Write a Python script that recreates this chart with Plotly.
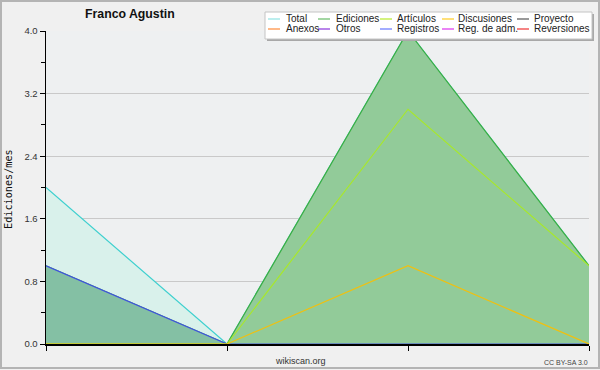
import plotly.graph_objects as go

# ---- data ----
month_index = [0, 1, 2, 3]
total = [2, 0, 4, 1]
ediciones = [1, 0, 4, 1]
registros = [1, 0, 0, 0]
articulos = [0, 0, 3, 1]
discusiones = [0, 0, 1, 0]

legend_labels = ["Total", "Ediciones", "Artículos", "Discusiones", "Proyecto",
                 "Anexos", "Otros", "Registros", "Reg. de adm.", "Reversiones"]
legend_colors = ["#8fe3e3", "#66bb66", "#b8ea2a", "#ffcc22", "#555555",
                 "#ff8a3a", "#8a35dd", "#6677ff", "#dd33ee", "#ee3333"]

y_ticks = [0.0, 0.8, 1.6, 2.4, 3.2, 4.0]

W, H = 600, 370
L, R, T, B = 46, 11, 31, 26
PW, PH = W - L - R, H - T - B


def px(x):
    return (x - L) / PW


def py(y):
    return (H - B - y) / PH


fig = go.Figure()

series = [
    ("Total", total, "#3fd0cf", "#d9f1eb"),
    ("Ediciones", ediciones, "#3aae42", "#92cb99"),
    ("Registros", registros, "#4050e0", "#84c0a4"),
    ("Artículos", articulos, "#a8e82a", None),
    ("Discusiones", discusiones, "#f0c010", None),
]
for name, vals, lc, fc in series:
    fig.add_trace(go.Scatter(
        x=month_index, y=vals, mode="lines", name=name,
        line=dict(color=lc, width=1.2),
        fill="tozeroy" if fc else None,
        fillcolor=fc,
        showlegend=False,
        hoverinfo="skip",
    ))

fig.update_xaxes(
    range=[0, 3], tickvals=month_index, showticklabels=False,
    ticks="outside", ticklen=5, tickcolor="#000", showline=True,
    linecolor="#000", linewidth=1.5, showgrid=False, zeroline=False,
)
fig.update_yaxes(
    range=[0, 4], tickvals=y_ticks, tickformat=".1f",
    ticks="outside", ticklen=5, tickcolor="#000",
    minor=dict(dtick=0.4, tick0=0, ticks="outside", ticklen=4,
               tickcolor="#000", showgrid=False),
    showline=True, linecolor="#000", linewidth=1.5,
    showgrid=True, gridcolor="#c9c9c9", gridwidth=1, zeroline=False,
    tickfont=dict(family="Liberation Sans", size=9.5, color="#333"),
)

shapes = []
annotations = []

# outer frame
shapes.append(dict(type="rect", xref="paper", yref="paper",
                   x0=px(1), x1=px(599), y0=py(368), y1=py(1),
                   line=dict(color="#b4b4b4", width=2), layer="above"))

# legend box (shadow + box)
shapes.append(dict(type="rect", xref="paper", yref="paper",
                   x0=px(267), x1=px(594), y0=py(41), y1=py(14),
                   fillcolor="#a8a8a8", line=dict(width=0), layer="above"))
shapes.append(dict(type="rect", xref="paper", yref="paper",
                   x0=px(265), x1=px(592), y0=py(39), y1=py(12),
                   fillcolor="#ffffff", line=dict(color="#c4c4c4", width=1),
                   layer="above"))

col_line_x = [268, 318, 380, 442, 517]
col_text_x = [285, 335, 396, 457, 533]
row_y = [19, 29]
for i, (lab, col) in enumerate(zip(legend_labels, legend_colors)):
    r, c = divmod(i, 5)
    shapes.append(dict(type="line", xref="paper", yref="paper",
                       x0=px(col_line_x[c]), x1=px(col_line_x[c] + 12),
                       y0=py(row_y[r]), y1=py(row_y[r]),
                       line=dict(color=col, width=1.2), layer="above"))
    annotations.append(dict(xref="paper", yref="paper",
                            x=px(col_text_x[c] - 1), y=py(row_y[r]),
                            xanchor="left", yanchor="middle", showarrow=False,
                            text=lab, font=dict(family="Liberation Sans", size=10, color="#222")))

# title
annotations.append(dict(xref="paper", yref="paper", x=px(130), y=py(14),
                        xanchor="center", yanchor="middle", showarrow=False,
                        text="<b>Franco Agustin</b>",
                        font=dict(family="Liberation Sans", size=12.3, color="#111")))
# y axis title
annotations.append(dict(xref="paper", yref="paper", x=px(8), y=py(189),
                        xanchor="center", yanchor="middle", showarrow=False,
                        textangle=-90, text="Ediciones/mes",
                        font=dict(family="DejaVu Sans Mono", size=10.2, color="#111")))
# footer
annotations.append(dict(xref="paper", yref="paper", x=px(300), y=py(361),
                        xanchor="center", yanchor="middle", showarrow=False,
                        text="wikiscan.org",
                        font=dict(family="Liberation Sans", size=9, color="#333")))
annotations.append(dict(xref="paper", yref="paper", x=px(590), y=py(362),
                        xanchor="right", yanchor="middle", showarrow=False,
                        text="CC BY-SA 3.0",
                        font=dict(family="Liberation Sans", size=7, color="#444")))

fig.update_layout(
    width=W, height=H,
    margin=dict(l=L, r=R, t=T, b=B),
    paper_bgcolor="#f0f0f0",
    plot_bgcolor="#eef0f1",
    shapes=shapes, annotations=annotations,
    showlegend=False,
)

fig.write_html(
    "out.html",
    config={"displayModeBar": False, "staticPlot": True},
    post_script="document.body.style.margin='0';document.body.style.padding='0';"
                "document.body.style.overflow='hidden';",
)
